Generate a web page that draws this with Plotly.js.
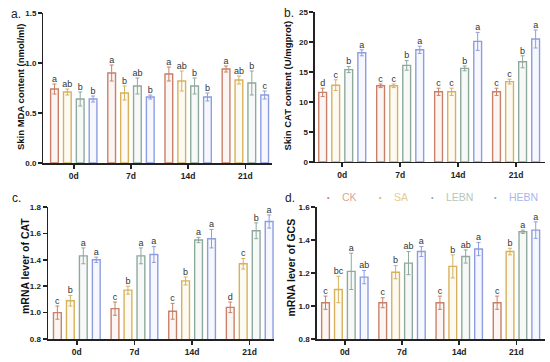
<!DOCTYPE html>
<html>
<head>
<meta charset="utf-8">
<script src="https://cdn.plot.ly/plotly-3.0.1.min.js"></script>
<style>html,body{margin:0;padding:0;background:#fff;}#chart{width:550px;height:362px;}</style>
</head>
<body>
<div id="chart"></div>
<script>
// ---- data ----
const categories = ['0d', '7d', '14d', '21d'];
const groups = ['CK', 'SA', 'LEBN', 'HEBN'];
const panelLabels = ['a.', 'b.', 'c.', 'd.'];
const yTitles = ['Skin MDA content (nmol/ml)', 'Skin CAT content (U/mgprot)', 'mRNA lever of CAT', 'mRNA lever of GCS'];

// a. Skin MDA content (nmol/ml)
const mdaMean = [[0.74, 0.90, 0.89, 0.94], [0.71, 0.70, 0.82, 0.83], [0.64, 0.77, 0.77, 0.80], [0.64, 0.66, 0.66, 0.68]];
const mdaErr  = [[0.05, 0.08, 0.07, 0.03], [0.03, 0.07, 0.10, 0.04], [0.07, 0.08, 0.08, 0.12], [0.03, 0.02, 0.04, 0.04]];
const mdaSig  = [['a', 'a', 'a', 'a'], ['ab', 'b', 'ab', 'ab'], ['b', 'ab', 'b', 'b'], ['b', 'b', 'b', 'c']];

// b. Skin CAT content (U/mgprot)
const catMean = [[11.6, 12.7, 11.7, 11.7], [12.8, 12.7, 11.7, 13.4], [15.4, 16.1, 15.6, 16.7], [18.2, 18.7, 20.1, 20.5]];
const catErr  = [[0.7, 0.3, 0.6, 0.6], [0.9, 0.3, 0.6, 0.4], [0.5, 0.8, 0.4, 1.0], [0.5, 0.6, 1.5, 1.5]];
const catSig  = [['d', 'c', 'c', 'c'], ['c', 'c', 'c', 'c'], ['b', 'b', 'b', 'b'], ['a', 'a', 'a', 'a']];

// c. mRNA lever of CAT
const mCatMean = [[1.00, 1.03, 1.01, 1.04], [1.09, 1.17, 1.24, 1.37], [1.43, 1.43, 1.55, 1.62], [1.40, 1.44, 1.56, 1.69]];
const mCatErr  = [[0.05, 0.05, 0.06, 0.04], [0.04, 0.03, 0.03, 0.04], [0.06, 0.06, 0.02, 0.06], [0.02, 0.06, 0.07, 0.05]];
const mCatSig  = [['c', 'c', 'c', 'd'], ['b', 'b', 'b', 'c'], ['a', 'a', 'a', 'b'], ['a', 'a', 'a', 'a']];

// d. mRNA lever of GCS
const gcsMean = [[1.02, 1.02, 1.02, 1.02], [1.10, 1.205, 1.24, 1.33], [1.21, 1.26, 1.30, 1.45], [1.175, 1.33, 1.345, 1.46]];
const gcsErr  = [[0.04, 0.03, 0.04, 0.04], [0.08, 0.04, 0.07, 0.02], [0.11, 0.07, 0.04, 0.01], [0.04, 0.03, 0.04, 0.05]];
const gcsSig  = [['c', 'c', 'c', 'c'], ['bc', 'b', 'b', 'b'], ['a', 'ab', 'ab', 'a'], ['ab', 'a', 'a', 'a']];

// ---- styles ----
const colors = ['#c98068', '#d6b25c', '#8fa99c', '#8d9de0'];
const fills  = ['rgba(201,128,104,0.07)', 'rgba(214,178,92,0.07)', 'rgba(143,169,156,0.07)', 'rgba(141,157,224,0.07)'];
const legendColors = ['#d9a894', '#e6cc8a', '#b4c6bc', '#aab6ec'];
const FONT = 'Liberation Sans, Arial, sans-serif';
const pitch = 0.225, barW = 0.135;
const W = 550, H = 362;

const panels = [
  {mean: mdaMean, err: mdaErr, sig: mdaSig, xa: 'x', ya: 'y'},
  {mean: catMean, err: catErr, sig: catSig, xa: 'x2', ya: 'y2'},
  {mean: mCatMean, err: mCatErr, sig: mCatSig, xa: 'x3', ya: 'y3'},
  {mean: gcsMean, err: gcsErr, sig: gcsSig, xa: 'x4', ya: 'y4'}
];

const traces = [];
panels.forEach(p => {
  groups.forEach((g, k) => {
    const xs = categories.map((c, i) => i + (k - 1.5) * pitch);
    traces.push({
      type: 'bar', x: xs, y: p.mean[k], width: barW, name: g,
      xaxis: p.xa, yaxis: p.ya, showlegend: false,
      marker: {color: fills[k], line: {color: colors[k], width: 1.4}},
      error_y: {type: 'data', array: p.err[k], visible: true, color: colors[k], thickness: 1, width: 2},
      hoverinfo: 'skip'
    });
    traces.push({
      type: 'scatter', mode: 'text', x: xs,
      y: p.mean[k].map((m, i) => m + p.err[k][i]),
      text: p.sig[k], textposition: 'top center',
      textfont: {family: FONT, size: 9, color: '#333'},
      xaxis: p.xa, yaxis: p.ya, showlegend: false, cliponaxis: false, hoverinfo: 'skip'
    });
  });
});

function xax(domain, anchor, range) {
  return {domain: domain, anchor: anchor, range: range, tickmode: 'array',
    tickvals: categories.map((c, i) => i), ticktext: categories,
    showline: true, linecolor: '#222', linewidth: 1.5, ticks: 'outside', ticklen: 4, tickwidth: 1.5, tickcolor: '#222',
    showgrid: false, zeroline: false, fixedrange: true, automargin: false,
    tickfont: {family: FONT, size: 8.5, color: '#222', weight: 'bold'}};
}
function yax(domain, anchor, range, dtick, fmt) {
  return {domain: domain, anchor: anchor, range: range, dtick: dtick, tick0: range[0], tickformat: fmt,
    showline: true, linecolor: '#222', linewidth: 1.5, ticks: 'outside', ticklen: 4, tickwidth: 1.5, tickcolor: '#222',
    showgrid: false, zeroline: false, fixedrange: true, automargin: false,
    tickfont: {family: FONT, size: 8, color: '#222', weight: 'bold'}};
}

const layout = {
  width: W, height: H, margin: {l: 0, r: 0, t: 0, b: 0},
  paper_bgcolor: '#fff', plot_bgcolor: '#fff', showlegend: false, barmode: 'overlay',
  font: {family: FONT},
  xaxis:  xax([0.079, 0.495], 'y',  [-0.53, 3.47]),
  yaxis:  yax([0.5497, 0.9641], 'x', [0, 1.5], 0.5, '.1f'),
  xaxis2: xax([0.5727, 0.991], 'y2', [-0.47, 3.5]),
  yaxis2: yax([0.5525, 0.9669], 'x2', [0, 25], 5, 'd'),
  xaxis3: xax([0.0873, 0.498], 'y3', [-0.5, 3.42]),
  yaxis3: yax([0.0635, 0.4282], 'x3', [0.8, 1.8], 0.2, '.1f'),
  xaxis4: xax([0.576, 0.991], 'y4', [-0.49, 3.5]),
  yaxis4: yax([0.0635, 0.4282], 'x4', [0.8, 1.6], 0.2, '.1f'),
  annotations: []
};

// panel letters
const labelPos = [[9, 14], [282, 13], [10, 198], [283, 198]];
panelLabels.forEach((t, i) => layout.annotations.push({text: t, xref: 'paper', yref: 'paper',
  x: labelPos[i][0] / W, y: 1 - labelPos[i][1] / H, xanchor: 'left', yanchor: 'middle', showarrow: false,
  font: {family: FONT, size: 12, color: '#222'}}));

// y-axis titles
const titlePos = [[20, 87], [287.5, 86], [25, 266], [290.5, 268]];
const titleSize = [9.5, 9.5, 10.5, 10.5];
yTitles.forEach((t, i) => layout.annotations.push({text: t, xref: 'paper', yref: 'paper', textangle: -90,
  x: titlePos[i][0] / W, y: 1 - titlePos[i][1] / H, xanchor: 'center', yanchor: 'middle', showarrow: false,
  font: {family: FONT, size: titleSize[i], color: '#111', weight: 'bold'}}));

// legend (top of panel d)
const legX = [328, 380, 432, 495];
groups.forEach((g, k) => {
  layout.annotations.push({text: '•', xref: 'paper', yref: 'paper', x: legX[k] / W, y: 1 - 197 / H,
    xanchor: 'center', yanchor: 'middle', showarrow: false, font: {family: FONT, size: 7, color: colors[k]}});
  layout.annotations.push({text: g, xref: 'paper', yref: 'paper', x: (legX[k] + 12) / W, y: 1 - 197 / H,
    xanchor: 'left', yanchor: 'middle', showarrow: false, font: {family: FONT, size: 10.5, color: legendColors[k]}});
});

Plotly.newPlot('chart', traces, layout, {displayModeBar: false, staticPlot: true});
</script>
</body>
</html>
